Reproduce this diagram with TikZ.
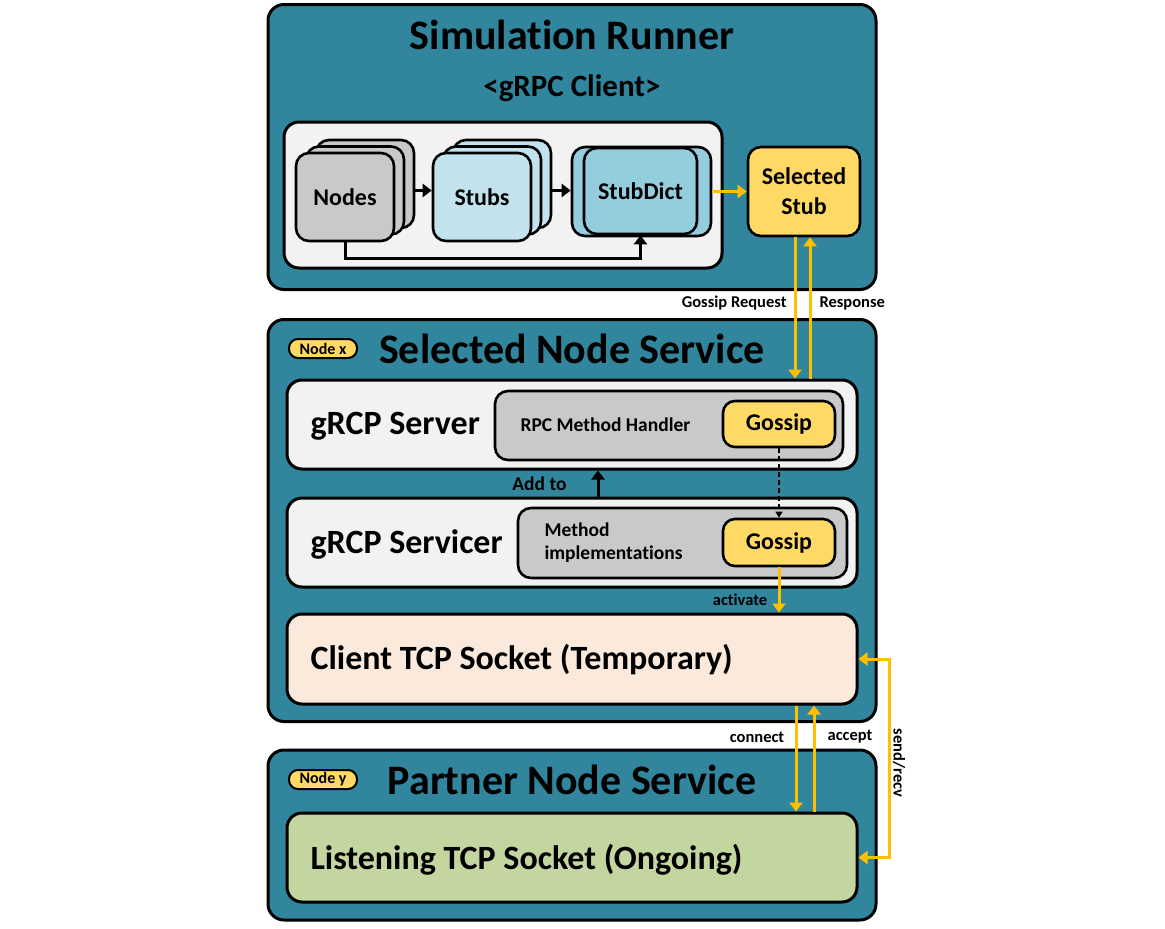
\documentclass[tikz,border=0pt]{standalone}
\usepackage{fontspec}
\setmainfont{Carlito}[Ligatures=NoCommon]
\usetikzlibrary{arrows.meta}
\definecolor{panelteal}{RGB}{49,133,156}
\definecolor{cardgray}{RGB}{242,242,242}
\definecolor{nodegray}{RGB}{201,201,201}
\definecolor{stubblue}{RGB}{194,227,237}
\definecolor{dictblue}{RGB}{148,205,221}
\definecolor{stubyellow}{RGB}{255,217,102}
\definecolor{arroworange}{RGB}{255,192,0}
\definecolor{clientpeach}{RGB}{251,233,219}
\definecolor{listengreen}{RGB}{196,214,160}
\newcommand\sizebf[1]{\fontsize{#1}{#1}\selectfont\bfseries}

\begin{document}
\begin{tikzpicture}[x=1pt, y=-1pt, >={Triangle[length=9pt,width=13pt]},
  panel/.style={draw=black, line width=3pt, rounded corners=16pt, fill=panelteal, inner sep=0pt, minimum width=608pt},
  card/.style={draw=black, line width=3pt, rounded corners=15pt, fill=cardgray, inner sep=0pt},
  tile/.style={draw=black, line width=2.6pt, rounded corners=13pt, inner sep=0pt},
  badge/.style={draw=black, line width=2pt, fill=stubyellow, rounded corners=9pt, minimum width=68pt, minimum height=19pt, inner sep=0pt, font=\sizebf{16}},
  yarrow/.style={->, draw=arroworange, line width=3pt},
  karrow/.style={->, line width=3pt},
  ttl/.style={font=\sizebf{42}},
  big/.style={font=\sizebf{34}},
  mid/.style={font=\sizebf{24}},
  small/.style={font=\sizebf{19.5}},
  tiny/.style={font=\sizebf{16.5}}]
\useasboundingbox [fill=white] (0,0) rectangle (1165,929);

\node [panel, minimum height=285pt] (runner) at (572,147) {};
\node [ttl] (runnertitle) at (572,35) {Simulation Runner};
\node [big, font=\sizebf{31}] (clienttitle) at (572,88) {<gRPC Client>};
\node [card, minimum width=438pt, minimum height=146pt] (pool) at (503,195) {};

\node [tile, fill=nodegray, minimum width=98pt, minimum height=88pt] (nodesc) at (365,184) {};
\node [tile, fill=nodegray, minimum width=98pt, minimum height=88pt] (nodesb) at (355,190.5) {};
\node [tile, fill=nodegray, minimum width=98pt, minimum height=88pt, mid] (nodes) at (345,197) {Nodes};
\node [tile, fill=stubblue, minimum width=98pt, minimum height=88pt] (stubsc) at (502,184) {};
\node [tile, fill=stubblue, minimum width=98pt, minimum height=88pt] (stubsb) at (492,190.5) {};
\node [tile, fill=stubblue, minimum width=98pt, minimum height=88pt, mid] (stubs) at (482,197) {Stubs};
\node [tile, fill=dictblue, minimum width=139pt, minimum height=89pt] (stubdictb) at (641.5,191.5) {};
\node [tile, fill=dictblue, minimum width=113pt, minimum height=86pt, mid] (stubdict) at (640.5,191) {StubDict};
\node [tile, fill=stubyellow, minimum width=112pt, minimum height=89pt, mid, align=center, font=\fontsize{24}{30}\selectfont\bfseries] (selstub) at (804,191.5) {Selected\\Stub};

\draw [karrow] (nodesc.east |- nodesb.east) -- (stubs.west |- nodesb.east);
\draw [karrow] (stubsc.east |- stubsb.east) -- (stubdictb.west |- stubsb.east);
\draw [karrow] (nodes.south) -- ++(0,16) -| (stubdict.south);
\draw [yarrow] (stubdictb.east) -- (selstub.west |- stubdictb.east);

\node [panel, minimum height=402pt] (selected) at (572,520.5) {};
\node [badge] (nodex) at (323,348.5) {Node x};
\node [ttl] (selectedtitle) at (572,349) {Selected Node Service};

\node [card, minimum width=570pt, minimum height=89pt] (server) at (572,424.5) {};
\node [big, anchor=west] (serverlabel) at (307,426) {gRCP Server};
\node [tile, fill=nodegray, minimum width=348pt, minimum height=69pt] (handler) at (669,425.5) {};
\node [small, anchor=west] (handlerlabel) at (517,425) {RPC Method Handler};
\node [tile, fill=stubyellow, minimum width=112pt, minimum height=46pt, rounded corners=12pt, mid] (gossipa) at (779,424) {Gossip};

\node [card, minimum width=570pt, minimum height=89pt] (servicer) at (572,542.5) {};
\node [big, anchor=west] (servicerlabel) at (307,544) {gRCP Servicer};
\node [tile, fill=nodegray, minimum width=329pt, minimum height=70pt] (methods) at (682.5,543) {};
\node [small, anchor=west, align=left, font=\fontsize{19.5}{23}\selectfont\bfseries] (methodslabel) at (541,543) {Method\\implementations};
\node [tile, fill=stubyellow, minimum width=112pt, minimum height=47pt, rounded corners=12pt, mid] (gossipb) at (779,542.5) {Gossip};

\node [card, fill=clientpeach, minimum width=570pt, minimum height=90pt] (client) at (572,659) {};
\node [big, anchor=west] (clientlabel) at (307,660) {Client TCP Socket (Temporary)};

\draw [karrow] ([xshift=26pt]servicer.north) -- ([xshift=26pt]server.south);
\node [small] (addto) at (539.5,484) {Add to};
\draw [->, dash pattern=on 5pt off 3pt, line width=1.3pt, >={Triangle[length=6pt,width=7pt]}] (gossipa.south) -- (gossipb.north);
\draw [yarrow] (gossipb.south) -- (gossipb.south |- client.north);
\node [tiny] (activate) at (740,600) {activate};

\draw [yarrow] ([xshift=-9pt]selstub.south) -- ([xshift=-9pt]selstub.south |- server.north);
\draw [yarrow] ([xshift=6pt]selstub.south |- server.north) -- ([xshift=6pt]selstub.south);
\node [tiny, anchor=east] (request) at (790,303) {Gossip Request};
\node [tiny, anchor=west] (response) at (816,303) {Response};

\node [panel, minimum height=170pt] (partner) at (572,835) {};
\node [badge] (nodey) at (323,779.5) {Node y};
\node [ttl] (partnertitle) at (572,780) {Partner Node Service};
\node [card, fill=listengreen, minimum width=570pt, minimum height=89pt] (listen) at (572,857.5) {};
\node [big, anchor=west] (listenlabel) at (307,860) {Listening TCP Socket (Ongoing)};

\draw [yarrow] ([xshift=224pt]client.south) -- ([xshift=224pt]listen.north);
\draw [yarrow] ([xshift=242pt]listen.north) -- ([xshift=242pt]client.south);
\node [tiny] (connect) at (757,737) {connect};
\node [tiny] (accept) at (850,737) {accept};
\draw [yarrow, <->] (client.east) -- ++(31,0) |- (listen.east);
\node [tiny, rotate=-90] (sendrecv) at (899,763) {send/recv};
\end{tikzpicture}
\end{document}
